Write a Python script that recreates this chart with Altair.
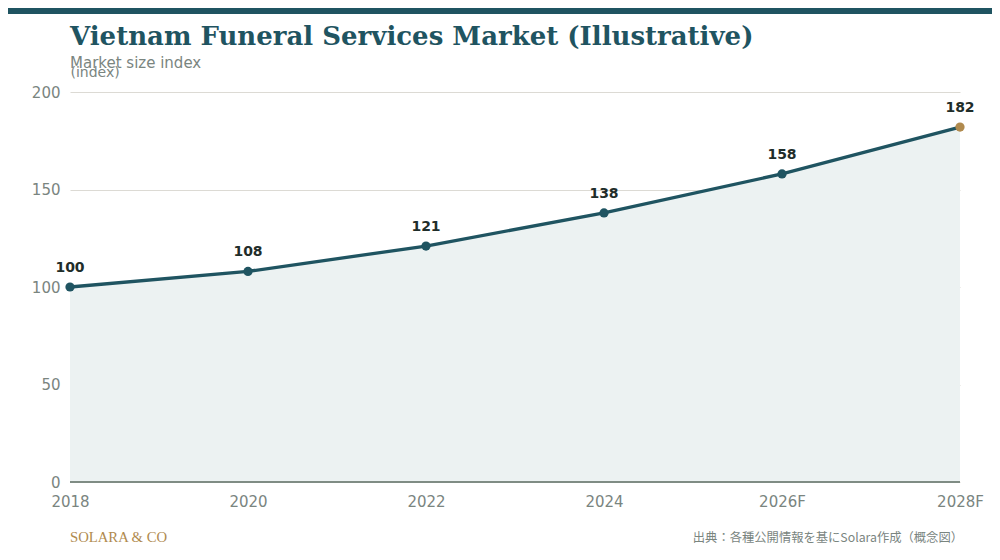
import altair as alt
import pandas as pd

years = ["2018", "2020", "2022", "2024", "2026F", "2028F"]
values = [100, 108, 121, 138, 158, 182]
kinds = ["actual", "actual", "actual", "actual", "actual", "latest"]

title_text = "Vietnam Funeral Services Market (Illustrative)"
subtitle_text = "Market size index"
y_title = "(index)"
brand_text = "SOLARA & CO"
source_text = "出典：各種公開情報を基にSolara作成（概念図）"

TEAL = "#1f5461"
GOLD = "#b08a4e"
GRAY = "#7a857f"
GRID = "#dcdad4"
SANS = "DejaVu Sans"

df = pd.DataFrame({"year": years, "value": values, "kind": kinds})

x = alt.X(
    "year:O",
    sort=years,
    scale=alt.Scale(type="point", padding=0),
    axis=alt.Axis(
        labelAngle=0, title=None, labelFontSize=15, labelColor=GRAY,
        labelPadding=12, ticks=False, domain=False, grid=False,
        labelFont=SANS,
    ),
)
y = alt.Y(
    "value:Q",
    scale=alt.Scale(domain=[0, 200]),
    axis=alt.Axis(
        values=[0, 50, 100, 150, 200], title=y_title, titleAngle=0,
        titleX=0, titleY=-16, titleAlign="left", titleBaseline="alphabetic",
        titleFontSize=14, titleFontWeight="normal", titleColor=GRAY,
        titleFont=SANS, labelFont=SANS,
        labelFontSize=15, labelColor=GRAY, labelPadding=10, ticks=False,
        domain=False, gridColor=GRID, gridWidth=1,
    ),
)

base = alt.Chart(df)

area = base.mark_area(color="#ecf2f2", opacity=1).encode(x=x, y=y)
line = base.mark_line(color=TEAL, strokeWidth=3.3).encode(x=x, y=y)
pts = base.mark_point(filled=True, size=85, opacity=1).encode(
    x=x, y=y,
    color=alt.Color("kind:N", scale=alt.Scale(domain=["actual", "latest"], range=[TEAL, GOLD]), legend=None),
)
labels = base.mark_text(
    dy=-19, fontSize=14, fontWeight="bold", color="#1f2d2a", font=SANS
).encode(x=x, y=y, text="value:Q")

zero = alt.Chart(pd.DataFrame({"v": [0]})).mark_rule(color="#7f8c84", strokeWidth=2).encode(y=alt.Y("v:Q"))

topbar = alt.Chart(pd.DataFrame({"t": [1]})).mark_rule(color=TEAL, strokeWidth=6).encode(
    x=alt.value(-62), x2=alt.value(922), y=alt.value(-81)
)

title = alt.Chart(pd.DataFrame({"t": [title_text]})).mark_text(
    font="DejaVu Serif", fontSize=26, fontWeight="bold", color=TEAL, align="left", baseline="alphabetic"
).encode(text="t:N", x=alt.value(0), y=alt.value(-47))

subtitle = alt.Chart(pd.DataFrame({"t": [subtitle_text]})).mark_text(
    font=SANS, fontSize=15, color=GRAY, align="left", baseline="alphabetic"
).encode(text="t:N", x=alt.value(0), y=alt.value(-24))

brand = alt.Chart(pd.DataFrame({"t": [brand_text]})).mark_text(
    font="Liberation Serif", fontSize=14.7, color=GOLD, align="left", baseline="middle"
).encode(text="t:N", x=alt.value(0), y=alt.value(446))

source = alt.Chart(pd.DataFrame({"t": [source_text]})).mark_text(
    font="Noto Sans CJK JP", fontSize=12.3, color=GRAY, align="right", baseline="middle"
).encode(text="t:N", x=alt.value(893), y=alt.value(446))

chart = alt.layer(area, zero, line, pts, labels, topbar, title, subtitle, brand, source).properties(
    width=890,
    height=390,
    padding={"left": 62, "top": 84, "right": 32, "bottom": 70},
    autosize=alt.AutoSizeParams(type="none"),
    background="white",
).configure(font=SANS).configure_view(stroke=None)

chart.save("out.html", embed_options={"renderer": "svg", "actions": False})
